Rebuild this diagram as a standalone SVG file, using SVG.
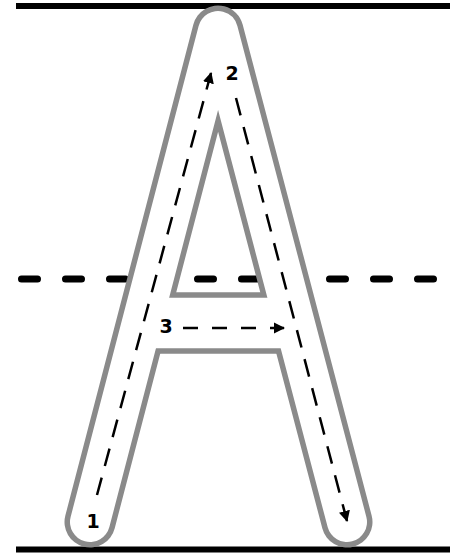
<svg xmlns="http://www.w3.org/2000/svg" width="470" height="560" viewBox="0 0 470 560">
<defs>
<style>
.rule{stroke:#000;stroke-width:6;fill:none}
.mid{stroke:#000;stroke-width:7;stroke-linecap:round;stroke-dasharray:16 28;fill:none}
.outline{stroke:#8a8a8a;fill:none;stroke-linejoin:round}
.body{stroke:#fff;fill:none;stroke-linejoin:round}
.trace{stroke:#000;stroke-width:2.5;fill:none}
.lbl{font-family:"DejaVu Sans",Verdana,sans-serif;font-weight:bold;font-size:19px;fill:#000;text-anchor:middle}
</style>
<marker id="ah" viewBox="0 0 10 10" refX="9" refY="5" markerWidth="4.5" markerHeight="4.5" orient="auto" markerUnits="strokeWidth">
<path d="M0,0 L10,5 L0,10 z" fill="#000"/>
</marker>
</defs>
<g id="guides">
<line class="rule" x1="16" y1="6" x2="450" y2="6"/>
<line class="rule" x1="16" y1="549.5" x2="450" y2="549.5"/>
<line class="mid" x1="21.5" y1="279" x2="440" y2="279"/>
</g>
<g id="letter-A">
<path class="outline" d="M90,522 L218,31 L347,522" stroke-width="51" stroke-linecap="round"/>
<path class="outline" d="M142,323 L295,323" stroke-width="61.5"/>
<path class="body" d="M90,522 L218,31 L347,522" stroke-width="40" stroke-linecap="round"/>
<path class="body" d="M142,323 L295,323" stroke-width="50.5"/>
</g>
<g id="connectors">
<path id="stroke1" class="trace" d="M97,495 L211,73" stroke-dasharray="18 12" marker-end="url(#ah)"/>
<path id="stroke2" class="trace" d="M236,98 L347,521" stroke-dasharray="18 12" marker-end="url(#ah)"/>
<path id="stroke3" class="trace" d="M183,328 L284,328" stroke-dasharray="15 14" marker-end="url(#ah)"/>
</g>
<g id="labels">
<text class="lbl" x="93" y="528" font-size="21">1</text>
<text class="lbl" x="232" y="80">2</text>
<text class="lbl" x="166" y="333">3</text>
</g>
</svg>
